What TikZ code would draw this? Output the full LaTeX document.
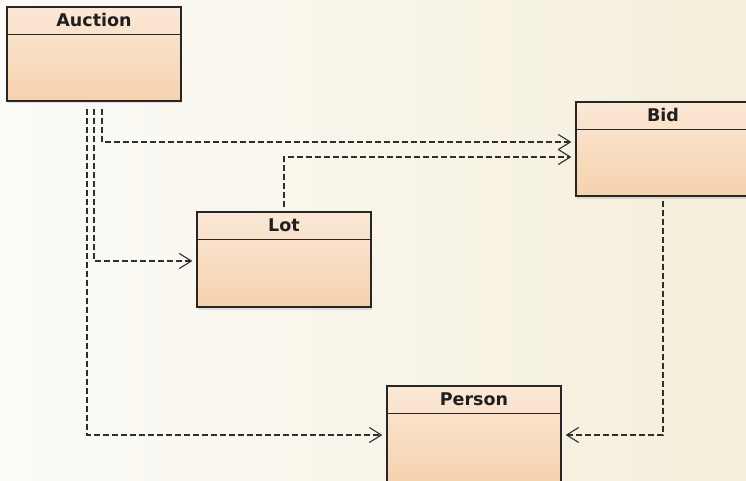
\documentclass[tikz,border=0pt]{standalone}
\usepackage{fontspec}
\setmainfont{DejaVu Sans}
\usetikzlibrary{arrows.meta,shadows,calc}
\definecolor{bgA}{HTML}{F4EEDA}
\definecolor{bgB}{HTML}{FCFBF8}
\definecolor{boxtop}{HTML}{FBE8D6}
\definecolor{boxbot}{HTML}{F6D2AE}
\definecolor{edge}{HTML}{262626}
\definecolor{dep}{HTML}{2E2E2E}
\tikzset{
  classbox/.style={draw=edge, line width=1.3pt, minimum width=174pt, inner sep=0pt,
    top color=boxtop, bottom color=boxbot,
    drop shadow={opacity=0.22, shadow xshift=1pt, shadow yshift=-2.5pt}},
  title/.style={font=\bfseries\fontsize{17.5}{19}\selectfont, text=black!88, inner sep=0pt},
  deparrow/.style={draw=dep, line width=1.1pt, dash pattern=on 6pt off 3pt,
    -{Straight Barb[length=12pt,width=15pt,line width=1.1pt]}}
}
\begin{document}
\begin{tikzpicture}[x=1pt,y=-1pt]
\useasboundingbox (0,0) rectangle (746,481);
\clip (0,0) rectangle (746,481);
\shade[shading angle=135, left color=bgB, right color=bgA] (0,0) rectangle (746,481);

\node[classbox, minimum height=94pt] (auction) at (94,54) {};
\node[classbox, minimum height=94pt] (bid) at (663,149) {};
\node[classbox, minimum height=95pt] (lot) at (284,259.5) {};
\node[classbox, minimum height=96pt] (person) at (474,434) {};

\foreach \n/\t in {auction/Auction, bid/Bid, lot/Lot, person/Person}{
  \draw[edge, line width=1.3pt] ([yshift=-28pt]\n.north west) -- ([yshift=-28pt]\n.north east);
  \node[title] (\n-title) at ([yshift=-14pt]\n.north) {\t};
}

\draw[deparrow] ([shift={(8,7)}]auction.south) |- ([shift={(-4,-7)}]bid.west);
\draw[deparrow] ([shift={(0,-4)}]lot.north) |- ([shift={(-4,8)}]bid.west);
\draw[deparrow] ([shift={(0,7)}]auction.south) |- ([shift={(-4,1.5)}]lot.west);
\draw[deparrow] ([shift={(-7,7)}]auction.south) |- ([shift={(-4,1)}]person.west);
\draw[deparrow] ([shift={(0,4)}]bid.south) |- ([shift={(4,1)}]person.east);
\end{tikzpicture}
\end{document}
